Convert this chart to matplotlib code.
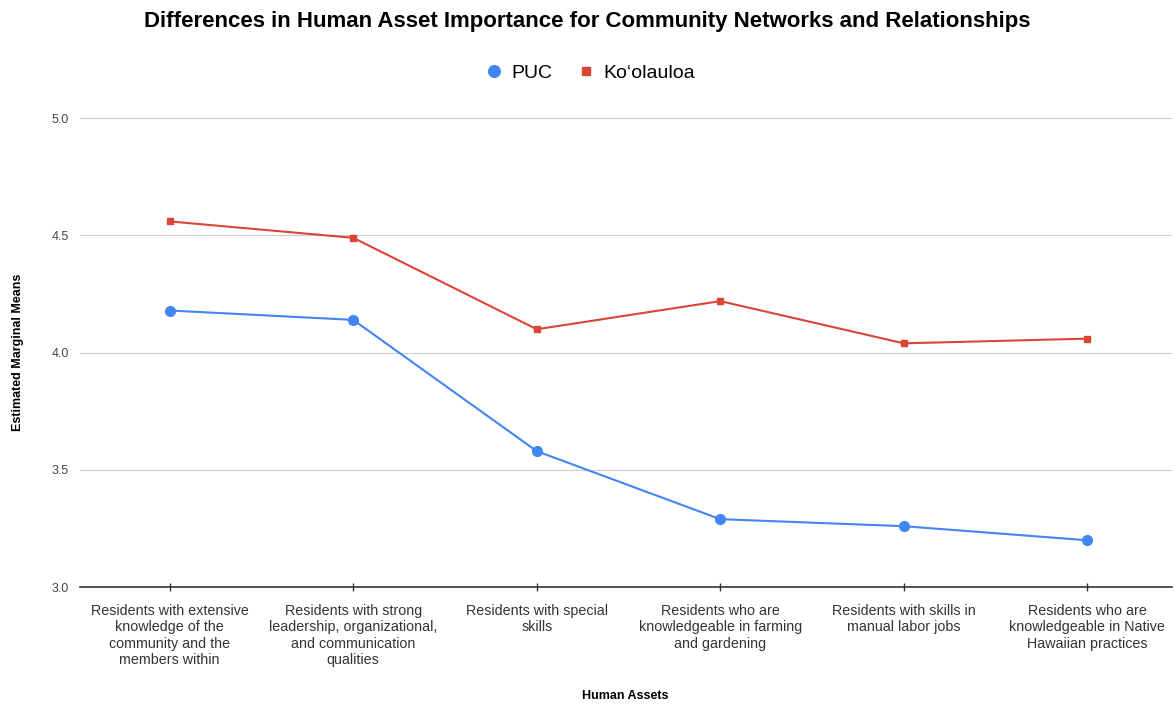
import matplotlib
matplotlib.use("Agg")
import matplotlib.pyplot as plt

plt.rcParams['font.family'] = ['Liberation Sans', 'DejaVu Sans']

# Human asset categories and estimated marginal means per group
assets = [
    "Residents with extensive\nknowledge of the\ncommunity and the\nmembers within",
    "Residents with strong\nleadership, organizational,\nand communication\nqualities",
    "Residents with special\nskills",
    "Residents who are\nknowledgeable in farming\nand gardening",
    "Residents with skills in\nmanual labor jobs",
    "Residents who are\nknowledgeable in Native\nHawaiian practices",
]
puc = [4.18, 4.14, 3.58, 3.29, 3.26, 3.20]
koolauloa = [4.56, 4.49, 4.10, 4.22, 4.04, 4.06]
y_ticks = [3.0, 3.5, 4.0, 4.5, 5.0]

fig = plt.figure(figsize=(11.74, 7.04), dpi=100)
ax = fig.add_axes([0.068, 0.166, 0.93, 0.666])

x = list(range(len(assets)))
ax.plot(x, puc, color='#4285F4', linewidth=1.5, marker='o', markersize=7, label='PUC', zorder=3)
ax.plot(x, koolauloa, color='#DB4437', linewidth=1.5, marker='s', markersize=5, label='Ko\u02bbolauloa', zorder=3)

ax.set_xlim(-0.49, 5.46)
ax.set_ylim(3.0, 5.0)
ax.set_yticks(y_ticks)
ax.set_yticklabels([f"{v:.1f}" for v in y_ticks])
ax.set_xticks(x)
ax.set_xticklabels(assets, fontsize=10.3, color='#333333', linespacing=1.22)
ax.tick_params(axis='y', length=0, labelsize=9, labelcolor='#444444', pad=8)
ax.tick_params(axis='x', length=6, width=1, color='#333333', direction='inout', pad=9)

ax.grid(axis='y', color='#cccccc', linewidth=0.8)
ax.set_axisbelow(True)
for side in ['top', 'right', 'left']:
    ax.spines[side].set_visible(False)
ax.spines['bottom'].set_color('#333333')
ax.spines['bottom'].set_linewidth(1.2)

ax.set_ylabel('Estimated Marginal Means', fontsize=9, fontweight='bold')
ax.yaxis.set_label_coords(-0.051, 0.5)
ax.set_xlabel('Human Assets', fontsize=9, fontweight='bold')
ax.xaxis.set_label_coords(0.5, -0.22)

fig.suptitle('Differences in Human Asset Importance for Community Networks and Relationships',
             fontsize=16, fontweight='bold', y=0.984)
fig.legend(loc='center', bbox_to_anchor=(0.503, 0.896), ncol=2, frameon=False,
           fontsize=14, handlelength=0.8, handletextpad=0.5, columnspacing=1.3,
           markerscale=1.2)
leg = fig.legends[0]
for h in leg.legend_handles:
    h.set_linestyle('none')

fig.savefig('out.png', dpi=100)
